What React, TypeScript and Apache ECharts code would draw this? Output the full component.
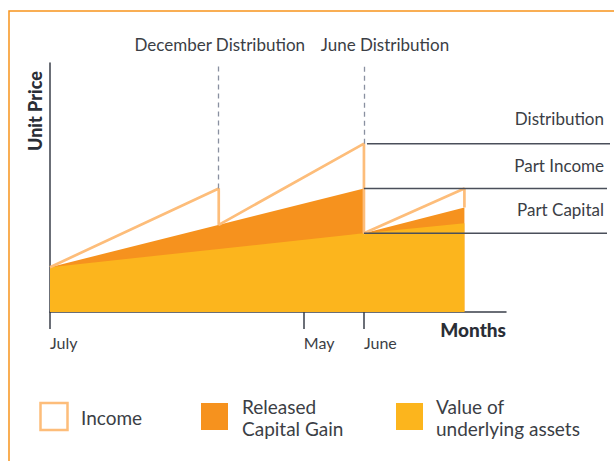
import React, { useEffect, useRef } from "react";
import * as echarts from "echarts";

// x in months from July (0); June distribution at 12
const assetValue: [number, number][] = [[0, 45], [12, 79], [15.84, 89]];
const capitalGainTop: [number, number][] = [[0, 45], [12, 124], [12, 79], [15.84, 105]];
const incomeLine: [number, number][] = [
  [0, 45], [6.45, 124], [6.45, 87.5], [12, 169], [12, 79], [15.84, 124], [15.84, 105],
];
const tickMonths = [0, 9.7, 12];
const tickLabels = ["July", "May", "June"];
const distributionNames = ["December Distribution", "June Distribution"];
const distributionX = [6.45, 12];
const distributionPeak = [124, 169];
const levelLabels = ["Distribution", "Part Income", "Part Capital"];
const levelValues = [169, 124, 79];
const legendLabels = ["Income", "Released\nCapital Gain", "Value of\nunderlying assets"];

const X_MAX = 17.43;
const Y_MAX = 250;
const C_YELLOW = "#FCB51D";
const C_ORANGE = "#F6921E";
const C_INCOME = "#FDBD7A";
const C_TEXT = "#3b3e45";
const C_AXIS = "#3a3f4a";
const FONT = "Lato, 'Open Sans', sans-serif";

export default function App() {
  const ref = useRef<HTMLDivElement>(null);
  useEffect(() => {
    if (!ref.current) return;
    const chart = echarts.init(ref.current, undefined, { renderer: "svg" });
    chart.setOption({
      animation: false,
      backgroundColor: "#ffffff",
      grid: { left: 50, top: 63, right: 108, bottom: 149 },
      xAxis: {
        type: "value",
        min: 0,
        max: X_MAX,
        splitLine: { show: false },
        axisLine: { show: true, lineStyle: { color: C_AXIS, width: 1.5 } },
        axisTick: { show: true, customValues: tickMonths, length: 17, lineStyle: { color: C_AXIS, width: 1.5 } },
        axisLabel: {
          show: true,
          customValues: tickMonths,
          formatter: (v: number) => {
            const i = tickMonths.findIndex((t) => Math.abs(t - v) < 1e-6);
            return i >= 0 ? tickLabels[i] : "";
          },
          align: "left",
          margin: 22,
          fontSize: 16,
          color: C_TEXT,
          fontFamily: FONT,
        },
      },
      yAxis: {
        type: "value",
        min: 0,
        max: Y_MAX,
        splitLine: { show: false },
        axisLine: { show: true, lineStyle: { color: C_AXIS, width: 1.5 } },
        axisTick: { show: false },
        axisLabel: { show: false },
      },
      series: [
        {
          type: "line",
          data: capitalGainTop,
          showSymbol: false,
          symbol: "none",
          lineStyle: { width: 0 },
          areaStyle: { color: C_ORANGE, opacity: 1 },
          z: 1,
          silent: true,
        },
        {
          type: "line",
          data: assetValue,
          showSymbol: false,
          symbol: "none",
          lineStyle: { width: 0 },
          areaStyle: { color: C_YELLOW, opacity: 1 },
          z: 2,
          silent: true,
        },
        {
          type: "line",
          data: incomeLine,
          showSymbol: false,
          symbol: "none",
          lineStyle: { color: C_INCOME, width: 2.7 },
          z: 3,
          silent: true,
          markLine: {
            silent: true,
            symbol: "none",
            label: { show: false },
            lineStyle: { color: "#8990a0", width: 1.3, type: [5, 4] },
            data: distributionX.map((x, i) => [
              { coord: [x, distributionPeak[i]] },
              { coord: [x, Y_MAX] },
            ]),
          },
        },
      ],
    });

    const px = (x: number, y: number) => chart.convertToPixel({ gridIndex: 0 }, [x, y]) as number[];
    const juneX = px(12, 0)[0];
    const levelY = levelValues.map((v) => px(12, v)[1]);
    const graphic: any[] = [];
    graphic.push({
      type: "rect",
      shape: { x: 9, y: 11, width: 700, height: 600 },
      style: { fill: "none", stroke: "#F7941D", lineWidth: 1.5 },
      z: 100,
    });
    graphic.push({
      type: "text",
      x: 35,
      y: 111,
      rotation: Math.PI / 2,
      style: { text: "Unit Price", font: `900 18px ${FONT}`, fill: "#2a2e36", align: "center", verticalAlign: "middle" },
    });
    graphic.push({
      type: "text",
      x: 506,
      y: 329,
      style: { text: "Months", font: `900 19px ${FONT}`, fill: "#2a2e36", align: "right", verticalAlign: "middle" },
    });
    // top distribution labels
    distributionNames.forEach((name, i) => {
      const cx = px(distributionX[i], 0)[0] + (i === 0 ? 1 : 21);
      graphic.push({
        type: "text",
        x: cx,
        y: 44,
        style: { text: name, font: `17px ${FONT}`, fill: C_TEXT, align: "center", verticalAlign: "middle" },
      });
    });
    // right level lines
    levelY.forEach((y, i) => {
      graphic.push({
        type: "line",
        shape: { x1: juneX + (i === 0 ? 3 : 0), y1: y, x2: i === 0 ? 610 : 607, y2: y },
        style: { stroke: "#4a4f5a", lineWidth: 1.5 },
        z: 50,
      });
    });
    const labelYs = [levelY[0] - 25, (levelY[0] + levelY[1]) / 2 - 1, (levelY[1] + levelY[2]) / 2 - 1];
    levelLabels.forEach((t, i) => {
      graphic.push({
        type: "text",
        x: 604,
        y: labelYs[i],
        style: { text: t, font: `17px ${FONT}`, fill: C_TEXT, align: "right", verticalAlign: "middle" },
      });
    });
    // legend
    graphic.push({
      type: "rect",
      shape: { x: 40.5, y: 403, width: 27, height: 27 },
      style: { fill: "#ffffff", stroke: C_INCOME, lineWidth: 2.5 },
    });
    graphic.push({
      type: "rect",
      shape: { x: 201, y: 403, width: 27, height: 27 },
      style: { fill: C_ORANGE },
    });
    graphic.push({
      type: "rect",
      shape: { x: 396, y: 403, width: 27, height: 27 },
      style: { fill: C_YELLOW },
    });
    const legendX = [81, 242, 436];
    legendLabels.forEach((t, i) => {
      graphic.push({
        type: "text",
        x: legendX[i],
        y: 417,
        style: { text: t, font: `19px ${FONT}`, fill: C_TEXT, align: "left", verticalAlign: "middle", lineHeight: 22 },
      });
    });
    chart.setOption({ graphic });

    return () => chart.dispose();
  }, []);
  return (
    <div
      ref={ref}
      style={{ position: "absolute", left: 0, top: 0, width: 614, height: 461, background: "#fff" }}
    />
  );
}
